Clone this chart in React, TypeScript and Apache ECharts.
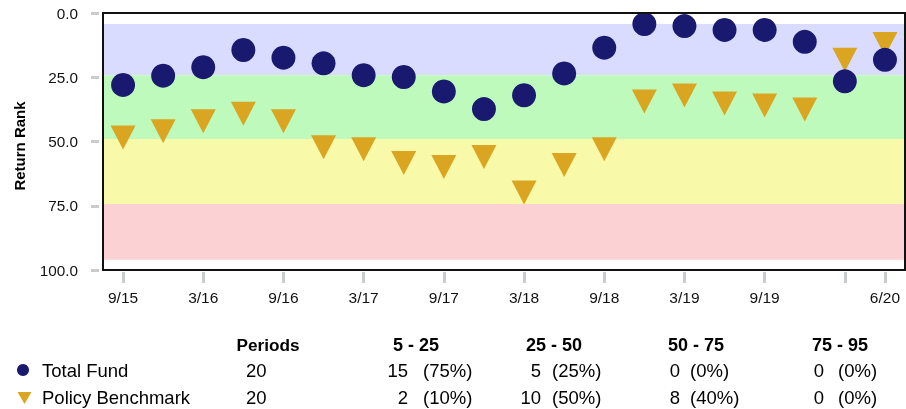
import React, { useEffect, useRef } from "react";
import * as echarts from "echarts";

const quarters = ["9/15","12/15","3/16","6/16","9/16","12/16","3/17","6/17","9/17","12/17","3/18","6/18","9/18","12/18","3/19","6/19","9/19","12/19","3/20","6/20"];
const labeledQuarters = ["9/15","3/16","9/16","3/17","9/17","3/18","9/18","3/19","9/19","6/20"];
const tickedQuarters = ["9/15","3/16","9/16","3/17","9/17","3/18","9/18","3/19","9/19","3/20","6/20"];
const totalFund = [28.0,24.4,21.1,14.4,17.4,19.6,24.2,24.9,30.5,37.4,32.0,23.5,13.5,4.3,5.1,6.6,6.6,11.2,26.6,18.2];
const policyBenchmark = [48.4,46.0,42.1,39.2,42.1,52.2,53.0,58.4,59.9,56.0,69.8,59.1,53.0,34.4,32.1,35.2,36.0,37.5,18.2,12.1];
const bandEdges = [4.3, 24.2, 49.0, 74.3, 96.0];
const bandColors = ["#d9dcfe", "#bffabd", "#f9f9aa", "#fcd1d4"];
const bandHeaders = ["5 - 25", "25 - 50", "50 - 75", "75 - 95"];
const seriesNames = ["Total Fund", "Policy Benchmark"];
const periods = [20, 20];
const fundCounts = [15, 5, 0, 0];
const benchCounts = [2, 10, 8, 0];

const FONT = "'Liberation Sans', Arial, Helvetica, sans-serif";
const NAVY = "#191970";
const GOLD = "#daa520";

export default function App() {
  const ref = useRef<HTMLDivElement>(null);
  useEffect(() => {
    if (!ref.current) return;
    const chart = echarts.init(ref.current, null, { renderer: "svg" });

    const headerCenters = [416, 554, 696, 840];
    const countRight = [408, 541, 680, 824];
    const pctLeft = [423, 552, 690, 838];
    const rowY = [370, 397];
    const countsRows = [fundCounts, benchCounts];

    const txt = (text: string, x: number, y: number, align: string, bold = false, size = 18.5) => ({
      type: "text",
      x,
      y,
      silent: true,
      style: {
        text,
        fontSize: size,
        fontFamily: FONT,
        fontWeight: bold ? "bold" : "normal",
        fill: "#000",
        align,
        verticalAlign: "middle",
      },
    });

    const graphics: any[] = [
      {
        type: "rect",
        shape: { x: 103, y: 13, width: 802, height: 257 },
        style: { fill: "none", stroke: "#111", lineWidth: 2 },
        z: 100,
        silent: true,
      },
      txt("Periods", 268, 345, "center", true, 17.2),
    ];
    bandHeaders.forEach((h, i) => graphics.push(txt(h, headerCenters[i], 345, "center", true, 18)));
    seriesNames.forEach((name, r) => {
      graphics.push(txt(name, 42, rowY[r], "left"));
      graphics.push(txt(String(periods[r]), 246, rowY[r], "left"));
      countsRows[r].forEach((c, i) => {
        graphics.push(txt(String(c), countRight[i], rowY[r], "right"));
        graphics.push(txt("(" + Math.round((c / periods[r]) * 100) + "%)", pctLeft[i], rowY[r], "left"));
      });
    });
    graphics.push({
      type: "circle",
      shape: { cx: 23, cy: 370, r: 6 },
      style: { fill: NAVY },
    });
    graphics.push({
      type: "polygon",
      shape: { points: [[17.5, 392], [31.5, 392], [24.5, 404]] },
      style: { fill: GOLD },
    });

    const bands = bandColors.map((c, i) => [
      { yAxis: bandEdges[i], itemStyle: { color: c } },
      { yAxis: bandEdges[i + 1] },
    ]);

    chart.setOption({
      animation: false,
      textStyle: { fontFamily: FONT },
      grid: { left: 103, top: 13, right: 1, bottom: 139, show: true, backgroundColor: "#fff", borderWidth: 0 },
      xAxis: {
        type: "category",
        position: "bottom",
        data: quarters,
        boundaryGap: true,
        offset: 2,
        axisLine: { show: false, onZero: false },
        axisTick: {
          show: true,
          alignWithLabel: true,
          length: 11,
          interval: (i: number, v: string) => tickedQuarters.includes(quarters[i]),
          lineStyle: { color: "#c8ccd0", width: 3 },
        },
        axisLabel: {
          interval: (i: number, v: string) => labeledQuarters.includes(quarters[i]),
          fontSize: 15.5,
          color: "#111",
          margin: 17,
          fontFamily: FONT,
        },
        splitLine: { show: false },
      },
      yAxis: {
        type: "value",
        inverse: true,
        min: 0,
        max: 100,
        interval: 25,
        offset: 4,
        name: "Return Rank",
        nameLocation: "middle",
        nameRotate: 90,
        nameGap: 72,
        nameTextStyle: { fontSize: 15, fontWeight: "bold", color: "#000", fontFamily: FONT, padding: [0, 0, 0, -9] },
        axisLine: { show: false, onZero: false },
        axisTick: { show: true, length: 8, lineStyle: { color: "#c8ccd0", width: 3 } },
        axisLabel: {
          fontSize: 15.3,
          color: "#111",
          margin: 21,
          fontFamily: FONT,
          formatter: (v: number) => v.toFixed(1),
        },
        splitLine: { show: false },
      },
      series: [
        {
          name: "Policy Benchmark",
          type: "scatter",
          data: policyBenchmark,
          symbol: "triangle",
          symbolRotate: 180,
          symbolSize: [25, 24],
          itemStyle: { color: GOLD, opacity: 1 },
          z: 3,
          markArea: { silent: true, data: bands },
        },
        {
          name: "Total Fund",
          type: "scatter",
          data: totalFund,
          symbol: "circle",
          symbolSize: 24,
          itemStyle: { color: NAVY, opacity: 1 },
          z: 4,
        },
      ],
      graphic: graphics,
    });
    return () => chart.dispose();
  }, []);
  return <div ref={ref} style={{ position: "fixed", left: 0, top: 0, width: 906, height: 409 }} />;
}
